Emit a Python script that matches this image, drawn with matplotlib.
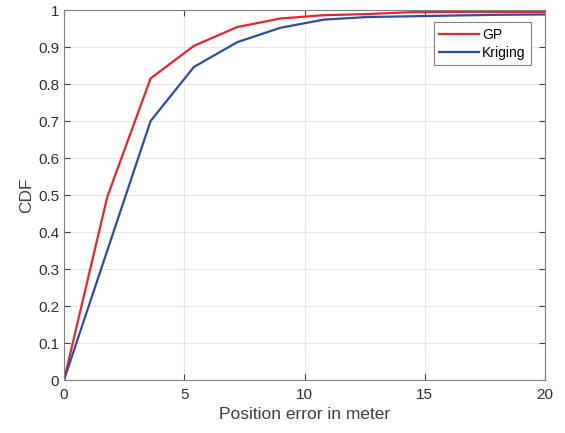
import matplotlib.pyplot as plt

plt.rcParams.update({
    "font.family": ["Liberation Sans", "DejaVu Sans"],
    "font.size": 11,
})

# Data
error_m = [0, 1.8, 3.6, 5.4, 7.2, 9.0, 10.8, 12.6, 14.4, 16.2, 18.0, 20.0]
cdf_gp = [0, 0.495, 0.815, 0.903, 0.954, 0.977, 0.986, 0.989, 0.994, 0.995, 0.995, 0.995]
cdf_kriging = [0, 0.35, 0.70, 0.846, 0.913, 0.952, 0.974, 0.981, 0.983, 0.985, 0.987, 0.988]

fig = plt.figure(figsize=(5.65, 4.33), dpi=100)
ax = fig.add_axes([0.1133, 0.1224, 0.8513, 0.8545])

ax.plot(error_m, cdf_gp, color='#e8242c', linewidth=1.6, label='GP')
ax.plot(error_m, cdf_kriging, color='#2c4ea0', linewidth=1.6, label='Kriging')

ax.set_xlim(0, 20)
ax.set_ylim(0, 1)
ax.set_xticks([0, 5, 10, 15, 20])
ax.set_yticks([i / 10 for i in range(11)])
ax.set_yticklabels(['0', '0.1', '0.2', '0.3', '0.4', '0.5', '0.6', '0.7', '0.8', '0.9', '1'])

ax.set_xlabel('Position error in meter', fontsize=12.5, color='#404040', labelpad=3)
ax.set_ylabel('CDF', fontsize=12.5, color='#404040', labelpad=3)

ax.grid(True, color='#e6e6e6', linewidth=0.8)
ax.set_axisbelow(True)
ax.tick_params(direction='in', top=True, right=True, colors='#404040', labelcolor='#303030',
               length=4, labelsize=11)
ax.tick_params(axis='x', pad=6)
for s in ax.spines.values():
    s.set_color('#808080')
    s.set_linewidth(0.8)

leg = ax.legend(loc='upper right', bbox_to_anchor=(0.986, 0.986), fancybox=False, framealpha=1,
                edgecolor='#808080', handlelength=2.9, borderpad=0.4, labelspacing=0.3,
                handletextpad=0.2, fontsize=10)
leg.get_frame().set_linewidth(0.8)

plt.savefig('out.png', dpi=100)
